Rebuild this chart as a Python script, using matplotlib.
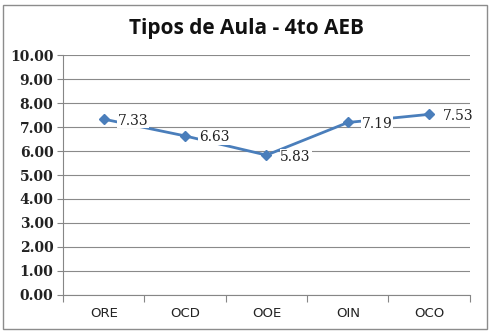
import matplotlib.pyplot as plt
from matplotlib.patches import Rectangle

# datos
categorias = ["ORE", "OCD", "OOE", "OIN", "OCO"]
valores = [7.33, 6.63, 5.83, 7.19, 7.53]
etiquetas = ["7.33", "6.63", "5.83", "7.19", "7.53"]

azul = "#4a7ebb"

fig = plt.figure(figsize=(4.93, 3.34), dpi=100)
ax = fig.add_axes([0.128, 0.117, 0.825, 0.718])

x = [i + 0.5 for i in range(len(categorias))]
ax.plot(x, valores, color=azul, linewidth=2, marker="D", markersize=5.5, zorder=3)

for xi, v, t in zip(x, valores, etiquetas):
    ax.annotate(t, (xi, v), xytext=(10, -1), textcoords="offset points",
                fontsize=10, family="DejaVu Serif", va="center", ha="left",
                color="#222222",
                bbox=dict(boxstyle="square,pad=0.05", fc="white", ec="none"), zorder=4)

ax.set_xlim(0, 5)
ax.set_ylim(0, 10)
ax.set_yticks([i for i in range(11)])
ax.set_yticklabels([f"{i:.2f}" for i in range(11)], family="DejaVu Serif",
                   fontsize=10, fontweight="bold", color="#222222")
ax.set_xticks(range(6))
ax.set_xticklabels([])
ax.set_xticks(x, minor=True)
ax.set_xticklabels(categorias, minor=True, fontsize=9.5, family="DejaVu Sans",
                   color="#222222")
ax.tick_params(axis="x", which="minor", length=0, pad=9)
ax.tick_params(axis="x", which="major", length=5, color="#868686")
ax.tick_params(axis="y", length=4, color="#868686", pad=3)

ax.grid(True, axis="y", color="#8a8a8a", linewidth=0.8)
ax.set_axisbelow(True)
for s in ["top", "right"]:
    ax.spines[s].set_visible(False)
for s in ["left", "bottom"]:
    ax.spines[s].set_color("#868686")

fig.text(0.5, 0.915, "Tipos de Aula - 4to AEB", ha="center", va="center",
         fontsize=15, fontweight="bold", family="Open Sans", color="#111111")

# borde del grafico
fig.patches.append(Rectangle((3 / 493, 5 / 334), 484 / 493, 324 / 334,
                             transform=fig.transFigure, fill=False,
                             ec="#8c8c8c", lw=1))

fig.savefig("out.png", dpi=100)
